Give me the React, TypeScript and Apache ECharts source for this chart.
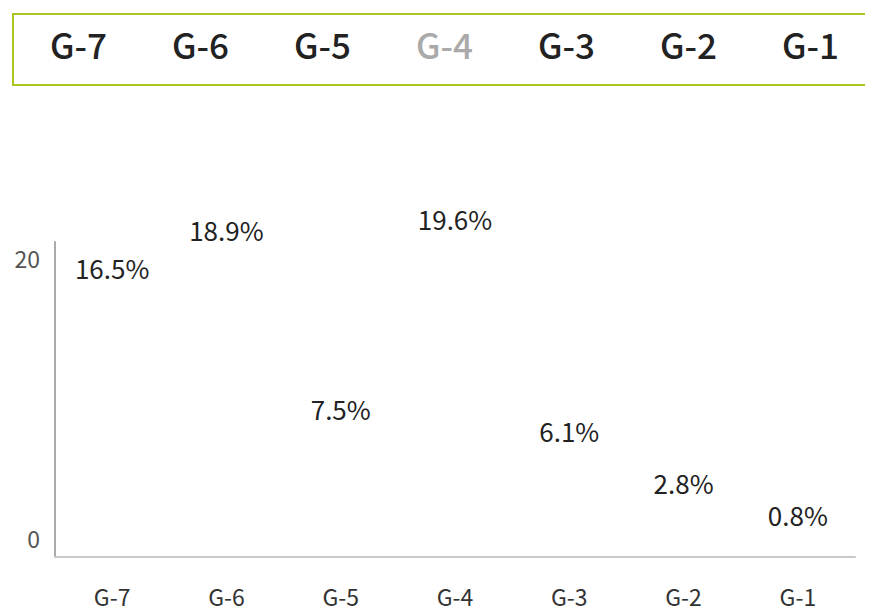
import React, { useEffect, useRef } from "react";
import * as echarts from "echarts";

const categories = ["G-7", "G-6", "G-5", "G-4", "G-3", "G-2", "G-1"];
const values = [16.5, 18.9, 7.5, 19.6, 6.1, 2.8, 0.8];
const yTicks = [0, 20];
const dimmedLegend = ["G-4"];

const FONT = "'Noto Sans CJK SC', 'Noto Sans', sans-serif";

export default function App() {
  const ref = useRef<HTMLDivElement>(null);
  useEffect(() => {
    if (!ref.current) return;
    const chart = echarts.init(ref.current, undefined, { renderer: "svg" });
    const series = categories.map((name, i) => ({
      name,
      type: "bar",
      stack: "all",
      barWidth: "60%",
      itemStyle: { color: "rgba(0,0,0,0)" },
      data: values.map((v, j) => (j === i ? v : null)),
      label: {
        show: true,
        position: "top",
        distance: 17,
        formatter: (p: any) => `${p.value}%`,
        fontFamily: FONT,
        fontSize: 26,
        color: "#222",
      },
    }));
    const maxV = yTicks[yTicks.length - 1];
    chart.setOption({
      animation: false,
      textStyle: { fontFamily: FONT },
      legend: {
        left: 13,
        top: 14,
        width: 1000,
        icon: "none",
        itemWidth: 0,
        itemHeight: 10,
        itemGap: 60,
        padding: [7, 32, 19, 32],
        borderColor: "#a9c51f",
        borderWidth: 2,
        backgroundColor: "#fff",
        textStyle: { fontSize: 35, fontWeight: 500, color: "#222", fontFamily: FONT, lineHeight: 45 },
        inactiveColor: "#aaa",
        data: categories.map((c) =>
          dimmedLegend.includes(c) ? { name: c, textStyle: { color: "#aaa" } } : { name: c }
        ),
      },
      grid: { left: 55, right: 18, top: 242, bottom: 58, containLabel: false },
      xAxis: {
        type: "category",
        data: categories,
        axisLine: { show: true, lineStyle: { color: "#c8c8c8", width: 2 } },
        axisTick: { show: false },
        axisLabel: { fontSize: 23, color: "#333", margin: 27, fontFamily: FONT },
      },
      yAxis: {
        type: "value",
        min: yTicks[0],
        max: maxV,
        interval: yTicks[1] - yTicks[0],
        splitLine: { show: false },
        axisTick: { show: false },
        axisLine: { show: true, lineStyle: { color: "#aaa", width: 2 } },
        axisLabel: {
          fontSize: 23,
          color: "#555",
          margin: 15,
          fontFamily: FONT,
          verticalAlignMinLabel: "bottom",
          verticalAlignMaxLabel: "top",
          formatter: (v: number) => (v === maxV ? `{mx|${v}}` : `{mn|${v}}`),
          rich: {
            mx: { fontSize: 23, color: "#555", fontFamily: FONT, padding: [4, 0, 0, 0] },
            mn: { fontSize: 23, color: "#555", fontFamily: FONT, padding: [0, 0, 8, 0] },
          },
        },
      },
      series,
    });
    return () => chart.dispose();
  }, []);
  return <div ref={ref} style={{ width: 873, height: 615, margin: -8 }} />;
}
